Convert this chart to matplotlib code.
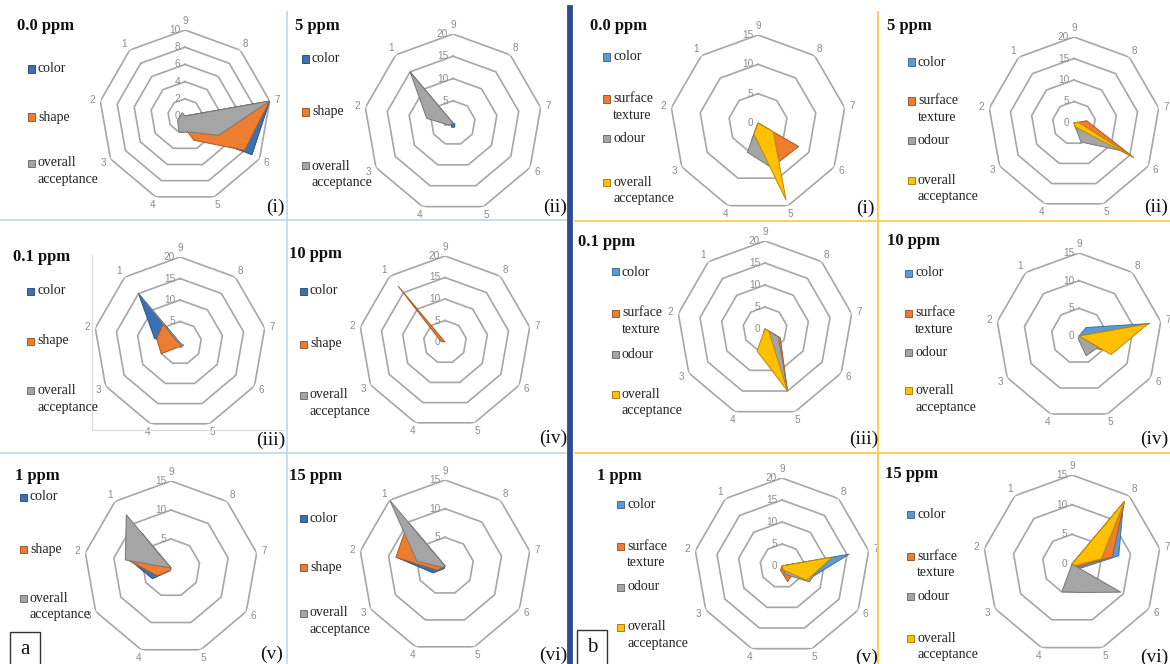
import numpy as np
import matplotlib
matplotlib.use("Agg")
import matplotlib.pyplot as plt
from matplotlib.patches import Rectangle
from matplotlib.lines import Line2D
from matplotlib.colors import to_rgb

W, H = 1170, 664

# ---------------- data ----------------
categories = ["9", "8", "7", "6", "5", "4", "3", "2", "1"]

series_a = ["color", "shape", "overall\nacceptance"]
series_b = ["color", "surface\ntexture", "odour", "overall\nacceptance"]

# group (a): color, shape, overall acceptance (values at categories 9..1)
a_00_color = [0, 0, 10, 9, 2, 0, 0, 0, 0]
a_00_shape = [0, 0, 10, 8, 3, 1, 0, 0, 0]
a_00_overall = [0, 0, 10, 4.5, 2, 2, 1, 0.5, 0.5]

a_5_color = [0, 0, 0, 0.5, 1, 1, 0.5, 0, 0]
a_5_shape = [0, 0, 0, 0, 0, 0, 1, 4, 15]
a_5_overall = [0, 0, 0, 0, 0.5, 0, 1, 6, 15]

a_01_color = [0, 0, 0, 0, 0, 0, 1, 6, 15]
a_01_shape = [0, 0, 0, 0, 1, 1, 5, 5.5, 6]
a_01_overall = [0, 0, 0, 1, 1, 0, 0, 0.5, 15]

a_10_color = [0, 0, 0, 0, 0, 0, 0, 0, 0]
a_10_shape = [0, 0, 0, 0, 0, 0, 0, 1, 17]
a_10_overall = [0, 0, 0, 0, 0, 0, 0, 0, 0]

a_1_color = [0, 0, 0, 0, 0, 0.5, 3.7, 7, 8]
a_1_shape = [0, 0, 0, 0, 0, 0.5, 2.7, 7.4, 8]
a_1_overall = [0, 0, 0, 0, 0, 0, 0, 8, 12]

a_15_color = [0, 0, 0, 0, 0, 0.5, 2.4, 8.5, 9]
a_15_shape = [0, 0, 0, 0, 0, 0, 1.5, 8.7, 10]
a_15_overall = [0, 0, 0, 0, 0, 0, 0.5, 5, 15]

# group (b): color, surface texture, odour, overall acceptance
b_00_color = [0, 0, 0, 2, 6, 3, 0, 0, 0]
b_00_texture = [0, 0, 0, 8, 7.8, 1, 0, 0, 0]
b_00_odour = [0, 0, 0, 1, 8.5, 5.3, 0, 0, 0]
b_00_overall = [0, 0, 0, 3, 14, 2, 0, 0, 0]

b_5_color = [0, 0, 1, 10, 2, 0, 0, 0, 0]
b_5_texture = [0, 0, 3, 16, 1, 0, 0, 0, 0]
b_5_odour = [0, 0, 0, 13, 4.7, 0, 0, 0, 0]
b_5_overall = [0, 0, 1, 16, 1, 0, 0, 0, 0]

b_01_color = [0, 0, 0, 3, 15, 1, 0, 0, 0]
b_01_texture = [0, 0, 0, 4, 15, 1, 0, 0, 0]
b_01_odour = [0, 0, 0, 3.5, 15, 1, 0, 0, 0]
b_01_overall = [0, 0, 0, 1, 15, 5.3, 0, 0, 0]

b_10_color = [0, 2, 13, 3, 1, 0, 0, 0, 0]
b_10_texture = [0, 0, 12, 5, 2, 0, 0, 0, 0]
b_10_odour = [0, 0, 0, 4, 3.8, 0.5, 0, 0, 0]
b_10_overall = [0, 0, 12.7, 6.7, 0, 0, 0, 0, 0]

b_1_color = [0, 0, 15.5, 6.5, 1, 0, 0, 0, 0]
b_1_texture = [0, 0, 6, 3, 3.8, 1, 0, 0, 0]
b_1_odour = [0, 0, 10, 7.2, 2, 0, 0, 0, 0]
b_1_overall = [0, 0, 11.6, 6.5, 1, 0, 0, 0, 0]

b_15_color = [0, 13.5, 8, 1.5, 0, 0, 0, 0, 0]
b_15_texture = [0, 13.8, 6.9, 1, 0, 0, 0, 0, 0]
b_15_odour = [0, 0, 0, 9.5, 5.1, 5, 0, 0, 0]
b_15_overall = [0, 13.8, 5, 0.5, 0, 0, 0, 0, 0]

# ---------------- styles ----------------
colors_a = ["#3A70B5", "#ED7D31", "#A5A5A5"]
colors_b = ["#5B9BD5", "#ED7D31", "#A5A5A5", "#FFC000"]
GRID = "#A6A6A6"
LBL = "#8C8C8C"
SERIF = "Liberation Serif"
SANS = "Liberation Sans"


def shade(c, f):
    r, g, b = to_rgb(c)
    return (r * f, g * f, b * f)


# ---------------- layout (pixel units, y from top) ----------------
panels = [
    dict(data=[a_00_color, a_00_shape, a_00_overall], grp="a", center=(185, 116), R=86, rmax=10, step=2,
         title="0.0 ppm", title_xy=(17, 26), leg_x=28, leg_y=[69, 117, 163], num="(i)", num_xy=(285, 207)),
    dict(data=[a_5_color, a_5_shape, a_5_overall], grp="a", center=(453, 123), R=89, rmax=20, step=5,
         title="5 ppm", title_xy=(295, 26), leg_x=302, leg_y=[59, 112, 166], num="(ii)", num_xy=(567, 207)),
    dict(data=[a_01_color, a_01_shape, a_01_overall], grp="a", center=(180, 343), R=86, rmax=20, step=5,
         title="0.1 ppm", title_xy=(13, 257), leg_x=27, leg_y=[291, 341, 391], num="(iii)", num_xy=(285, 440)),
    dict(data=[a_10_color, a_10_shape, a_10_overall], grp="a", center=(445, 342), R=86, rmax=20, step=5,
         title="10 ppm", title_xy=(289, 254), leg_x=300, leg_y=[291, 344, 395], num="(iv)", num_xy=(567, 438)),
    dict(data=[a_1_color, a_1_shape, a_1_overall], grp="a", center=(171, 568), R=87, rmax=15, step=5,
         title="1 ppm", title_xy=(15, 476), leg_x=20, leg_y=[497, 549, 598], num="(v)", num_xy=(283, 654)),
    dict(data=[a_15_color, a_15_shape, a_15_overall], grp="a", center=(445, 566), R=86, rmax=15, step=5,
         title="15 ppm", title_xy=(289, 476), leg_x=300, leg_y=[518, 567, 613], num="(vi)", num_xy=(567, 655)),
    dict(data=[b_00_color, b_00_texture, b_00_odour, b_00_overall], grp="b", center=(758, 123), R=88, rmax=15, step=5,
         title="0.0 ppm", title_xy=(590, 26), leg_x=603, leg_y=[57, 99, 138, 182], num="(i)", num_xy=(875, 208)),
    dict(data=[b_5_color, b_5_texture, b_5_odour, b_5_overall], grp="b", center=(1074, 123), R=86, rmax=20, step=5,
         title="5 ppm", title_xy=(887, 26), leg_x=908, leg_y=[62, 101, 140, 180], num="(ii)", num_xy=(1168, 207)),
    dict(data=[b_01_color, b_01_texture, b_01_odour, b_01_overall], grp="b", center=(765, 329), R=88, rmax=20, step=5,
         title="0.1 ppm", title_xy=(578, 242), leg_x=612, leg_y=[272, 313, 354, 394], num="(iii)", num_xy=(878, 439)),
    dict(data=[b_10_color, b_10_texture, b_10_odour, b_10_overall], grp="b", center=(1079, 336), R=83, rmax=15, step=5,
         title="10 ppm", title_xy=(887, 241), leg_x=905, leg_y=[273, 313, 352, 391], num="(iv)", num_xy=(1168, 439)),
    dict(data=[b_1_color, b_1_texture, b_1_odour, b_1_overall], grp="b", center=(782, 566), R=88, rmax=20, step=5,
         title="1 ppm", title_xy=(597, 476), leg_x=617, leg_y=[504, 546, 587, 627], num="(v)", num_xy=(878, 657)),
    dict(data=[b_15_color, b_15_texture, b_15_odour, b_15_overall], grp="b", center=(1072, 564), R=89, rmax=15, step=5,
         title="15 ppm", title_xy=(885, 474), leg_x=907, leg_y=[514, 556, 596, 638], num="(vi)", num_xy=(1168, 657)),
]

fig = plt.figure(figsize=(W / 100, H / 100), dpi=100)
fig.patch.set_facecolor("white")


def fx(x):
    return x / W


def fy(y):
    return 1 - y / H


def hline(y, x0, x1, color, lw):
    fig.add_artist(Line2D([fx(x0), fx(x1)], [fy(y), fy(y)], transform=fig.transFigure, color=color, lw=lw))


def vline(x, y0, y1, color, lw):
    fig.add_artist(Line2D([fx(x), fx(x)], [fy(y0), fy(y1)], transform=fig.transFigure, color=color, lw=lw))


# separators
LB = "#BDD7EE"
YL = "#FFC94A"
vline(287, 12, 664, LB, 1.2)
hline(220, 0, 566, LB, 1.2)
hline(453, 0, 566, LB, 1.2)
vline(878, 12, 664, YL, 1.3)
hline(221, 575, 1170, YL, 1.3)
hline(453, 575, 1170, YL, 1.3)
vline(570, 8, 664, "#2D4E8E", 4.2)
# chart-area frame in a(iii)
vline(92, 255, 430, "#D9D9D9", 0.8)
hline(430, 92, 284, "#D9D9D9", 0.8)

theta = np.deg2rad(np.arange(len(categories)) * 360.0 / len(categories))
theta_c = np.append(theta, theta[0])

for p in panels:
    cx, cy = p["center"]
    R = p["R"]
    cols = colors_a if p["grp"] == "a" else colors_b
    names = series_a if p["grp"] == "a" else series_b
    ax = fig.add_axes([fx(cx - R), fy(cy + R), fx(2 * R), 2 * R / H], projection="polar")
    ax.set_theta_offset(np.pi / 2)
    ax.set_theta_direction(-1)
    ax.set_facecolor("none")
    ax.grid(False)
    ax.spines["polar"].set_visible(False)
    ax.set_xticks([])
    ax.set_yticks([])
    rmax, step = p["rmax"], p["step"]
    rings = np.arange(step, rmax + step / 2, step)
    for r in rings:
        ax.plot(theta_c, np.full(theta_c.shape, r), color=GRID, lw=1.2, zorder=1)
    for vals, c in zip(p["data"], cols):
        v = np.append(vals, vals[0])
        ax.fill(theta_c, v, facecolor=c, edgecolor=shade(c, 0.72), lw=0.7, zorder=3)
    ax.set_ylim(0, rmax)
    for r in np.arange(0, rmax + step / 2, step):
        ax.annotate(f"{r:g}", (0, r), xytext=(-3.5, 0), textcoords="offset points", ha="right", va="center",
                    fontsize=7.2, color=LBL, family=SANS, zorder=2, annotation_clip=False)
    for t, lab in zip(theta, categories):
        ax.annotate(lab, (t, rmax), xytext=(5.8 * np.sin(t), 6.2 * np.cos(t)), textcoords="offset points",
                    ha="center", va="center", fontsize=7.2, color=LBL, family=SANS, annotation_clip=False)

    # title
    tx, ty = p["title_xy"]
    fig.text(fx(tx), fy(ty), p["title"], ha="left", va="center", fontsize=12, fontweight="bold",
             family=SERIF, color="#111111")
    # legend
    s = 7
    for name, c, y in zip(names, cols, p["leg_y"]):
        fig.add_artist(Rectangle((fx(p["leg_x"]), fy(y + s / 2)), s / W, s / H, transform=fig.transFigure,
                                 facecolor=c, edgecolor=shade(c, 0.6), lw=0.6))
        for k, line in enumerate(name.split("\n")):
            fig.text(fx(p["leg_x"] + s + 3), fy(y + k * 16.5), line, ha="left", va="center", fontsize=10,
                     family=SERIF, color="#222222")
    # numeral
    nx, ny = p["num_xy"]
    fig.text(fx(nx), fy(ny), p["num"], ha="right", va="center", fontsize=14, family=SERIF, color="#111111")

# group letters
fig.add_artist(Rectangle((fx(10), fy(666)), 30 / W, 34 / H, transform=fig.transFigure,
                         facecolor="none", edgecolor="#333333", lw=1.0))
fig.text(fx(25), fy(649), "a", ha="center", va="center", fontsize=15, family=SERIF, color="#111111")
fig.add_artist(Rectangle((fx(577), fy(666)), 30 / W, 36 / H, transform=fig.transFigure,
                         facecolor="none", edgecolor="#333333", lw=1.0))
fig.text(fx(592), fy(648), "b", ha="center", va="center", fontsize=15, family=SERIF, color="#111111")

fig.savefig("out.png", dpi=100, facecolor="white")
